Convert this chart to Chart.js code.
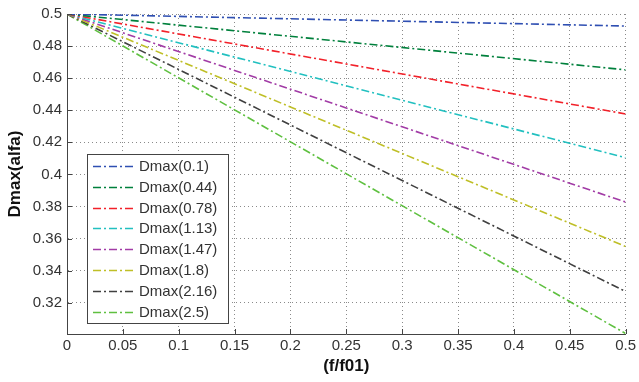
<!DOCTYPE html>
<html>
<head>
<meta charset="utf-8">
<script src="https://cdn.jsdelivr.net/npm/chart.js@4/dist/chart.umd.min.js"></script>
<style>
  html, body { margin: 0; padding: 0; background: #fff; }
  #wrap { width: 639px; height: 382px; }
</style>
</head>
<body>
<div id="wrap"><canvas id="lineChart" width="639" height="382"></canvas></div>
<script>
// values
var xValues = [0, 0.5];
var alfaLabels = ['0.1', '0.44', '0.78', '1.13', '1.47', '1.8', '2.16', '2.5'];
var dmax01  = [0.5, 0.4925];
var dmax044 = [0.5, 0.4652];
var dmax078 = [0.5, 0.4377];
var dmax113 = [0.5, 0.4104];
var dmax147 = [0.5, 0.3828];
var dmax18  = [0.5, 0.3551];
var dmax216 = [0.5, 0.3270];
var dmax25  = [0.5, 0.3008];
var xTicks = [0, 0.05, 0.1, 0.15, 0.2, 0.25, 0.3, 0.35, 0.4, 0.45, 0.5];
var yTicks = [0.32, 0.34, 0.36, 0.38, 0.4, 0.42, 0.44, 0.46, 0.48, 0.5];
var yMin = 0.3005, yMax = 0.5;

var seriesList = [dmax01, dmax044, dmax078, dmax113, dmax147, dmax18, dmax216, dmax25];
var colors = ['#2f4fb2', '#00803c', '#f2212a', '#22c0c0', '#a23ca6', '#bfbf27', '#404040', '#5fc040'];
var dashDot = [8, 3, 2, 3];
var FONT = '"Liberation Sans", Arial, sans-serif';

var datasets = [];
for (var k = 0; k < seriesList.length; k++) {
	var pts = [];
	for (var i = 0; i < xValues.length; i++) {
		pts.push({ x: xValues[i], y: seriesList[k][i] });
	}
	datasets.push({
		label: 'Dmax(' + alfaLabels[k] + ')',
		data: pts,
		borderColor: colors[k],
		borderWidth: 1.6,
		borderDash: dashDot,
		pointRadius: 0,
		fill: false
	});
}

function fmt(v) {
	return String(Number(v.toFixed(2)));
}

// MATLAB style inward ticks on left and bottom axes
var innerTicks = {
	id: 'innerTicks',
	afterDatasetsDraw: function(chart) {
		var ctx = chart.ctx;
		var xs = chart.scales.x, ys = chart.scales.y;
		var a = chart.chartArea;
		ctx.save();
		ctx.strokeStyle = '#444';
		ctx.lineWidth = 1;
		ctx.beginPath();
		for (var i = 0; i < yTicks.length; i++) {
			var py = Math.round(ys.getPixelForValue(yTicks[i])) + 0.5;
			ctx.moveTo(a.left, py);
			ctx.lineTo(a.left + 5, py);
		}
		for (var j = 0; j < xTicks.length; j++) {
			var px = Math.round(xs.getPixelForValue(xTicks[j])) + 0.5;
			ctx.moveTo(px, a.bottom);
			ctx.lineTo(px, a.bottom - 5);
		}
		ctx.stroke();
		ctx.restore();
	}
};

// legend box inside the plot, lower left
var boxLegend = {
	id: 'boxLegend',
	afterDraw: function(chart) {
		var ctx = chart.ctx;
		var left = 87, top = 154, right = 228, bottom = 323;
		var firstY = 166, step = 20.8;
		ctx.save();
		ctx.fillStyle = '#fff';
		ctx.fillRect(left, top, right - left, bottom - top);
		ctx.strokeStyle = '#444';
		ctx.lineWidth = 1;
		ctx.strokeRect(left + 0.5, top + 0.5, right - left, bottom - top);
		ctx.font = '15px ' + FONT;
		ctx.textBaseline = 'middle';
		ctx.textAlign = 'left';
		var ds = chart.data.datasets;
		for (var k = 0; k < ds.length; k++) {
			var y = Math.round(firstY + k * step) + 0.5;
			ctx.beginPath();
			ctx.setLineDash(dashDot);
			ctx.strokeStyle = ds[k].borderColor;
			ctx.lineWidth = 1.6;
			ctx.moveTo(93, y);
			ctx.lineTo(134, y);
			ctx.stroke();
			ctx.setLineDash([]);
			ctx.fillStyle = '#333';
			ctx.fillText(ds[k].label, 139, y + 0.5);
		}
		ctx.restore();
	}
};

var ctx = document.getElementById('lineChart');

var myLineChart = new Chart(ctx, {
	type: 'line',
	data: { datasets: datasets },
	options: {
		responsive: false,
		animation: false,
		devicePixelRatio: 1,
		layout: { padding: { left: 0, right: 8, top: 10, bottom: 0 } },
		plugins: {
			legend: { display: false },
			tooltip: { enabled: false }
		},
		scales: {
			x: {
				type: 'linear',
				min: 0,
				max: 0.5,
				afterBuildTicks: function(scale) {
					scale.ticks = xTicks.map(function(v) { return { value: v }; });
				},
				afterFit: function(scale) { scale.height = 48; },
				ticks: {
					autoSkip: false,
					maxRotation: 0,
					padding: 3,
					color: '#333',
					font: { family: FONT, size: 15 },
					callback: function(v) { return fmt(v); }
				},
				grid: {
					color: '#8a8a8a',
					lineWidth: 1,
					drawTicks: false,
					tickLength: 0
				},
				// in v4 border.dash is the dash of the grid lines
				border: { display: true, color: '#444', width: 1, dash: [1, 3] },
				title: {
					display: true,
					text: '(f/f01)',
					color: '#111',
					font: { family: FONT, size: 17, weight: 'bold' },
					padding: { top: 0, bottom: 5 }
				}
			},
			y: {
				type: 'linear',
				min: yMin,
				max: yMax,
				afterBuildTicks: function(scale) {
					scale.ticks = yTicks.map(function(v) { return { value: v }; });
				},
				afterFit: function(scale) { scale.width = 67; },
				ticks: {
					autoSkip: false,
					padding: 5,
					color: '#333',
					font: { family: FONT, size: 15 },
					callback: function(v) { return fmt(v); }
				},
				grid: {
					color: '#8a8a8a',
					lineWidth: 1,
					drawTicks: false,
					tickLength: 0
				},
				border: { display: true, color: '#444', width: 1, dash: [1, 3] },
				title: {
					display: true,
					text: 'Dmax(alfa)',
					color: '#111',
					font: { family: FONT, size: 17, weight: 'bold' },
					padding: { top: 5, bottom: 0 }
				}
			}
		}
	},
	plugins: [innerTicks, boxLegend]
});
</script>
</body>
</html>
